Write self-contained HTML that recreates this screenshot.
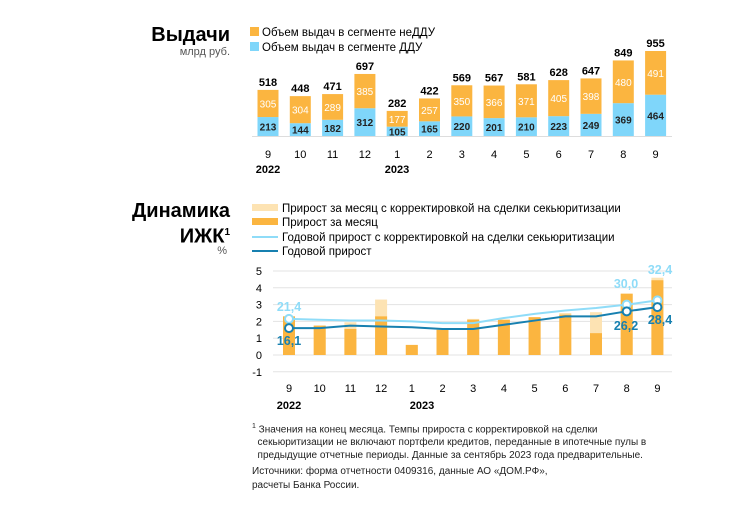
<!DOCTYPE html>
<html><head><meta charset="utf-8"><style>
body{margin:0;width:734px;height:507px;background:#fff;font-family:"Liberation Sans",sans-serif;position:relative;overflow:hidden}
.t{position:absolute;white-space:nowrap}
</style></head><body>
<div class="t" style="left:140px;top:24px;width:90px;text-align:right;font-weight:bold;font-size:20px">Выдачи</div>
<div class="t" style="left:150px;top:46px;width:80px;text-align:right;font-size:11px;color:#555">млрд руб.</div>
<div class="t" style="left:110px;top:200px;width:120px;text-align:right;font-weight:bold;font-size:20px;line-height:22px">Динамика<br>ИЖК<sup style="font-size:10px">1</sup></div>
<div class="t" style="left:150px;top:245px;width:77px;text-align:right;font-size:11px;color:#555">%</div>
<svg width="734" height="507" style="position:absolute;left:0;top:0" id="svg"></svg>
<div class="t" style="left:252px;top:420px;font-size:10px;line-height:13px;color:#222"><sup style="font-size:7px">1</sup> Значения на конец месяца. Темпы прироста с корректировкой на сделки<br>&nbsp;&nbsp;секьюритизации не включают портфели кредитов, переданные в ипотечные пулы в<br>&nbsp;&nbsp;предыдущие отчетные периоды. Данные за сентябрь 2023 года предварительные.</div>
<div class="t" style="left:252px;top:465px;font-size:10px;line-height:14px;color:#222">Источники: форма отчетности 0409316, данные АО «ДОМ.РФ»,<br>расчеты Банка России.</div>
<script>
const months=["9","10","11","12","1","2","3","4","5","6","7","8","9"];
const ddu=[213,144,182,312,105,165,220,201,210,223,249,369,464];
const nonDdu=[305,304,289,385,177,257,350,366,371,405,398,480,491];
const totals=[518,448,471,697,282,422,569,567,581,628,647,849,955];
const monthAdj=[2.3,1.75,1.95,3.3,0.6,1.55,2.15,2.1,2.25,2.5,2.55,3.65,4.6];
const monthGrowth=[2.3,1.75,1.55,2.3,0.6,1.5,2.1,2.1,2.25,2.4,1.3,3.65,4.45];
const yearAdj=[2.15,2.1,2.05,2.05,2.0,1.9,1.9,2.2,2.45,2.65,2.8,3.0,3.25];
const yearGrowth=[1.6,1.6,1.75,1.7,1.65,1.55,1.55,1.8,2.05,2.3,2.3,2.6,2.85];
const yTicks=[5,4,3,2,1,0,-1];
const svg=document.getElementById('svg');const NS='http://www.w3.org/2000/svg';
function mk(tag,a,name,txt){const e=document.createElementNS(NS,tag);for(const k in a)e.setAttribute(k,a[k]);


if(txt!==undefined)e.textContent=txt;svg.appendChild(e);return e;}
// top chart
const x1=i=>268+i*32.3, y1=v=>136-v*0.089;
mk('rect',{x:250,y:27,width:9,height:9,fill:'#fbb540'},'legend-swatch-non-ddu');
mk('text',{x:262,y:36,'font-size':11.5},'legend-label-non-ddu','Объем выдач в сегменте неДДУ');
mk('rect',{x:250,y:42,width:9,height:9,fill:'#7fd6fa'},'legend-swatch-ddu');
mk('text',{x:262,y:51,'font-size':11.5},'legend-label-ddu','Объем выдач в сегменте ДДУ');
mk('line',{x1:252,x2:672,y1:136.5,y2:136.5,stroke:'#ddd'},'x-axis-top');
months.forEach((m,i)=>{const cx=x1(i),w=21;
mk('rect',{x:cx-w/2,y:y1(ddu[i]),width:w,height:136-y1(ddu[i]),fill:'#7fd6fa'},'bar-ddu');
mk('rect',{x:cx-w/2,y:y1(ddu[i]+nonDdu[i]),width:w,height:y1(ddu[i])-y1(ddu[i]+nonDdu[i]),fill:'#fbb540'},'bar-non-ddu');
mk('text',{x:cx,y:(y1(ddu[i])+136)/2+4,'font-size':10,'text-anchor':'middle','font-weight':'bold',fill:'#222'},'ddu-value',ddu[i]);
mk('text',{x:cx,y:(y1(ddu[i])+y1(ddu[i]+nonDdu[i]))/2+4,'font-size':10,'text-anchor':'middle',fill:'#fff'},'non-ddu-value',nonDdu[i]);
mk('text',{x:cx,y:y1(totals[i])-4,'font-size':11,'text-anchor':'middle','font-weight':'bold'},'total-value',totals[i]);
mk('text',{x:cx,y:158,'font-size':11,'text-anchor':'middle'},'x-tick-top',m);});
mk('text',{x:268,y:173,'font-size':11,'text-anchor':'middle','font-weight':'bold'},'year-2022-top','2022');
mk('text',{x:397,y:173,'font-size':11,'text-anchor':'middle','font-weight':'bold'},'year-2023-top','2023');
// bottom legend
mk('rect',{x:252,y:204,width:26,height:7,fill:'#fde3b3'},'legend-swatch-month-adj');
mk('text',{x:282,y:212,'font-size':11.5},'legend-label-month-adj','Прирост за месяц с корректировкой на сделки секьюритизации');
mk('rect',{x:252,y:218,width:26,height:7,fill:'#fbb540'},'legend-swatch-month');
mk('text',{x:282,y:226,'font-size':11.5},'legend-label-month','Прирост за месяц');
mk('line',{x1:252,x2:278,y1:237,y2:237,stroke:'#8fdcf8','stroke-width':2},'legend-swatch-year-adj');
mk('text',{x:282,y:241,'font-size':11.5},'legend-label-year-adj','Годовой прирост с корректировкой на сделки секьюритизации');
mk('line',{x1:252,x2:278,y1:251,y2:251,stroke:'#1780b0','stroke-width':2},'legend-swatch-year');
mk('text',{x:282,y:255,'font-size':11.5},'legend-label-year','Годовой прирост');
// bottom chart
const x2=i=>289+i*30.7, y2=v=>355-v*16.8;
yTicks.forEach(t=>{mk('line',{x1:273,x2:672,y1:y2(t),y2:y2(t),stroke:'#e3e3e3'},'gridline');
mk('text',{x:262,y:y2(t)+4,'font-size':11,'text-anchor':'end'},'y-tick',t);});
months.forEach((m,i)=>{const cx=x2(i),w=12;
mk('rect',{x:cx-w/2,y:y2(monthAdj[i]),width:w,height:355-y2(monthAdj[i]),fill:'#fde3b3'},'bar-month-adj');
mk('rect',{x:cx-w/2,y:y2(monthGrowth[i]),width:w,height:355-y2(monthGrowth[i]),fill:'#fbb540'},'bar-month');
mk('text',{x:cx,y:392,'font-size':11,'text-anchor':'middle'},'x-tick-bottom',m);});
mk('text',{x:289,y:409,'font-size':11,'text-anchor':'middle','font-weight':'bold'},'year-2022-bottom','2022');
mk('text',{x:422,y:409,'font-size':11,'text-anchor':'middle','font-weight':'bold'},'year-2023-bottom','2023');
mk('polyline',{points:yearAdj.map((v,i)=>x2(i)+','+y2(v)).join(' '),fill:'none',stroke:'#8fdcf8','stroke-width':2},'line-year-adj');
mk('polyline',{points:yearGrowth.map((v,i)=>x2(i)+','+y2(v)).join(' '),fill:'none',stroke:'#1780b0','stroke-width':2},'line-year');
[0,11,12].forEach(i=>{mk('circle',{cx:x2(i),cy:y2(yearAdj[i]),r:4,fill:'#fff',stroke:'#8fdcf8','stroke-width':2},'marker-year-adj');
mk('circle',{cx:x2(i),cy:y2(yearGrowth[i]),r:4,fill:'#fff',stroke:'#1780b0','stroke-width':2},'marker-year');});
const lb={'font-size':12.5,'text-anchor':'middle','font-weight':'bold'};
mk('text',Object.assign({x:289,y:311,fill:'#8fdcf8'},lb),'label-year-adj','21,4');
mk('text',Object.assign({x:289,y:345,fill:'#1780b0'},lb),'label-year','16,1');
mk('text',Object.assign({x:626,y:288,fill:'#8fdcf8'},lb),'label-year-adj','30,0');
mk('text',Object.assign({x:626,y:330,fill:'#1780b0'},lb),'label-year','26,2');
mk('text',Object.assign({x:660,y:274,fill:'#8fdcf8'},lb),'label-year-adj','32,4');
mk('text',Object.assign({x:660,y:324,fill:'#1780b0'},lb),'label-year','28,4');
</script>
</body></html>
